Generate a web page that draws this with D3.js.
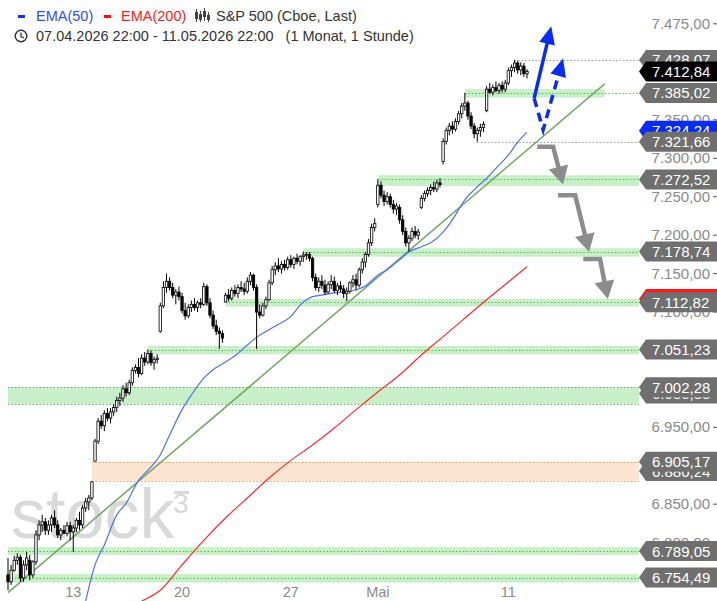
<!DOCTYPE html>
<html>
<head>
<meta charset="utf-8">
<script src="https://cdn.jsdelivr.net/npm/d3@7"></script>
<style>
  body { margin: 0; background: #fff; }
  svg { display: block; font-family: "Liberation Sans", Arial, sans-serif; }
</style>
</head>
<body>
<svg id="chart" width="717" height="601"></svg>
<script>
// hourly candles, 7 per trading day, 08.04. - 11.05.2026  [open, high, low, close]
var candles = [
  [6758,6780,6738,6749],[6749,6771,6745,6764],[6764,6783,6762,6777],[6777,6786,6771,6781],[6781,6784,6749,6754],[6754,6777,6749,6771],[6771,6788,6764,6780],
  [6777,6784,6751,6758],[6758,6777,6754,6775],[6775,6816,6771,6810],[6810,6829,6803,6823],[6823,6836,6814,6827],[6827,6832,6810,6816],[6816,6829,6810,6823],
  [6823,6836,6814,6832],[6832,6842,6819,6823],[6823,6829,6806,6810],[6810,6819,6803,6816],[6816,6823,6812,6812],[6812,6827,6808,6822],[6822,6827,6803,6814],
  [6814,6823,6788,6819],[6819,6832,6814,6829],[6829,6840,6816,6823],[6823,6849,6819,6845],[6845,6858,6840,6853],[6853,6862,6842,6858],[6858,6880.24,6855,6879],
  [6906,6935,6905.17,6932],[6932,6962,6928,6958],[6958,6966,6948,6952],[6952,6972,6945,6968],[6968,6975,6958,6962],[6962,6975,6955,6970],[6970,6980,6965,6976],
  [6976,6990,6970,6985],[6985,6995,6978,6988],[6988,7005,6983,7000],[7000,7008,6990,6995],[6995,7012,6992,7008],[7008,7028,7004,7024],[7024,7032,7020,7028],
  [7028,7040,7015,7020],[7020,7045,7018,7040],[7040,7048,7030,7035],[7035,7051.23,7032,7046],[7046,7050,7030,7034],[7034,7042,7025,7038],[7038,7045,7033,7040],
  [7075,7112,7073,7108],[7108,7140,7105,7132],[7132,7150,7125,7140],[7140,7145,7128,7132],[7132,7138,7118,7122],[7122,7130,7110,7126],[7126,7133,7115,7120],
  [7120,7125,7098,7102],[7102,7112,7090,7095],[7095,7110,7092,7106],[7106,7115,7100,7110],[7110,7118,7102,7106],[7106,7115,7100,7112],[7112,7118,7105,7110],
  [7110,7138,7108,7133],[7133,7136,7108,7112],[7112,7118,7092,7096],[7096,7102,7078,7082],[7082,7090,7070,7075],[7075,7080,7052,7072],[7072,7076,7060,7066],
  [7113,7125,7112.82,7122],[7122,7130,7114,7118],[7118,7132,7115,7128],[7128,7135,7120,7124],[7124,7136,7118,7132],[7132,7140,7126,7130],[7130,7138,7122,7127],
  [7127,7145,7124,7140],[7140,7152,7135,7148],[7148,7150,7128,7132],[7132,7136,7052,7100],[7100,7110,7092,7096],[7096,7112,7094,7108],[7108,7120,7104,7116],
  [7116,7142,7114,7138],[7138,7160,7135,7155],[7155,7165,7148,7160],[7160,7170,7152,7156],[7156,7166,7150,7162],[7162,7168,7154,7158],[7158,7172,7155,7168],
  [7168,7174,7158,7162],[7162,7172,7156,7170],[7170,7176,7162,7166],[7166,7174,7160,7172],[7172,7178.74,7165,7174],[7174,7178,7168,7175],[7175,7178,7166,7170],
  [7170,7172,7140,7145],[7145,7150,7128,7132],[7132,7145,7126,7140],[7140,7148,7130,7135],[7135,7142,7122,7126],[7126,7140,7124,7136],[7136,7148,7130,7140],
  [7140,7146,7125,7128],[7128,7138,7122,7134],[7134,7140,7126,7130],[7130,7135,7118,7124],[7124,7132,7114,7127],[7127,7140,7124,7138],[7138,7148,7132,7142],
  [7142,7150,7128,7135],[7135,7158,7132,7155],[7155,7170,7150,7165],[7165,7178,7158,7175],[7175,7195,7172,7190],[7190,7215,7186,7210],[7210,7222,7205,7215],
  [7240,7272.52,7236,7265],[7265,7270,7248,7252],[7252,7258,7238,7244],[7244,7256,7240,7250],[7250,7254,7236,7240],[7240,7246,7228,7234],[7234,7242,7226,7238],
  [7236,7240,7215,7220],[7220,7226,7200,7205],[7205,7210,7185,7190],[7190,7200,7178.74,7196],[7196,7210,7192,7205],[7205,7212,7196,7200],[7200,7208,7194,7204],
  [7236,7252,7234,7248],[7248,7258,7244,7254],[7254,7262,7250,7258],[7258,7266,7252,7262],[7262,7270,7256,7260],[7260,7272,7256,7268],[7268,7274,7262,7266],
  [7296,7326,7292,7322],[7322,7340,7318,7336],[7336,7346,7330,7342],[7342,7348,7332,7338],[7338,7352,7335,7348],[7348,7362,7344,7358],[7358,7372,7352,7368],
  [7368,7385.02,7362,7372],[7372,7375,7350,7355],[7355,7360,7338,7342],[7342,7346,7326,7332],[7332,7340,7321.66,7336],[7336,7345,7328,7340],[7340,7348,7334,7344],
  [7362,7394,7360,7390],[7390,7398,7384,7386],[7386,7396,7382,7392],[7392,7400,7386,7388],[7388,7398,7384,7395],[7395,7400,7385.5,7390],[7390,7402,7386,7398],
  [7398,7418,7395,7414],[7414,7422,7406,7418],[7418,7428.07,7412,7424],[7424,7427,7410,7415],[7415,7425,7408,7420],[7420,7424,7406,7410],[7410,7416,7404,7412.84]
];

// moving averages, [candle index, value]
var ema50 = [[25,6724],[28,6771],[31,6797],[35,6836],[38,6851],[42,6881],[45,6894],[49,6914],[52,6940],[56,6973],[59,6992],
  [63,7014],[66,7025],[70,7035],[73,7043],[77,7057],[80,7067],[84,7077],[87,7084],[91,7094],[94,7109],[98,7120],[101,7122],
  [105,7125],[108,7126],[112,7129],[115,7134],[119,7148],[122,7155],[126,7168],[129,7178],[133,7185],[136,7190],[140,7204],
  [143,7220],[147,7246],[150,7259],[154,7274],[157,7287],[161,7304],[164,7321],[167,7334]];
var ema200 = [[43,6724],[49,6738],[56,6771],[63,6803],[70,6832],[77,6858],[84,6884],[91,6907],[98,6927],[105,6949],
  [112,6973],[119,6996],[126,7018],[133,7044],[140,7068],[147,7092],[154,7116],[161,7139],[167,7159]];

// trend line anchors [index, value]
var trendLine = [[0, 6735], [192, 7397]];

// support / resistance zones
var zones = [
  {hi: 7390, lo: 7379, lines: [7385.02], from: 147, to: 192, kind: "level"},
  {hi: 7278, lo: 7264, lines: [7272.52], from: 119, kind: "level"},
  {hi: 7183, lo: 7172, lines: [7178.74], from: 95, kind: "level"},
  {hi: 7117, lo: 7107, lines: [7112.82], from: 70, kind: "level"},
  {hi: 7056, lo: 7045, lines: [7051.23], from: 45, kind: "level"},
  {hi: 7002.28, lo: 6980.33, lines: [7002.28, 6980.33], from: 0, kind: "level"},
  {hi: 6905.17, lo: 6880.24, lines: [6905.17, 6880.24], from: 27, kind: "gap"},
  {hi: 6794, lo: 6784, lines: [6789.05], from: 0, kind: "level"},
  {hi: 6759, lo: 6748, lines: [6754.49], from: 0, kind: "level"}
];
var plainLevels = [{v: 7428.07, from: 163}, {v: 7321.66, from: 151}];

var yTicks = [7475, 7350, 7300, 7250, 7200, 7150, 7100, 7050, 7000, 6950, 6900, 6850, 6800];
var xTickIdx = [21, 56, 91, 119, 161];
var xTickText = ["13", "20", "27", "Mai", "11"];

// price tags on the right axis: text value, position value (tags are pushed together), kind
var tags = [
  {v: 7428.07, at: 7428.07, kind: "gray"},
  {v: 7412.84, at: 7412.84, kind: "last"},
  {v: 7385.02, at: 7385.02, kind: "gray"},
  {v: 7324.24, at: 7336, kind: "ema50"},
  {v: 7321.66, at: 7321.66, kind: "gray"},
  {v: 7272.52, at: 7272.52, kind: "gray"},
  {v: 7178.74, at: 7178.74, kind: "gray"},
  {v: 7120.10, at: 7117, kind: "ema200"},
  {v: 7112.82, at: 7112.82, kind: "gray"},
  {v: 7051.23, at: 7051.23, kind: "gray"},
  {v: 6980.33, at: 6994, kind: "gray"},
  {v: 7002.28, at: 7002.28, kind: "gray"},
  {v: 6880.24, at: 6893, kind: "gray"},
  {v: 6905.17, at: 6905.17, kind: "gray"},
  {v: 6789.05, at: 6789.05, kind: "gray"},
  {v: 6754.49, at: 6754.49, kind: "gray"}
];

// scenario arrows, [index, value]
var bullSolid = [[169.3, 7378], [174.8, 7472]];
var bullDashed = [[169.3, 7378], [172.2, 7337], [178.6, 7430]];
var bearSteps = [
  [[170.3, 7315], [175.4, 7315], [178.6, 7266]],
  [[177.0, 7252], [182.5, 7252], [187.0, 7178]],
  [[185.1, 7169], [190.5, 7169], [193.0, 7117]]
];

var svg = d3.select("#chart");
var W = 717, H = 601, axisX = 639;

var x = d3.scaleLinear().domain([0, 167]).range([8, 527]);
var y = d3.scaleLinear().domain([6724, 7506]).range([H, 0]);

var de = d3.formatLocale({decimal: ",", thousands: ".", grouping: [3], currency: ["", ""]});
var fmt = de.format(",.2f");

var colors = {level: "#c9efc9", levelLine: "#5cb85c", gap: "#fde4d0", gapLine: "#e0a070",
  blue: "#4f6ff0", red: "#ff2a2a", arrowBlue: "#0a2cf0", arrowGray: "#8c8c8c"};

// watermark
svg.append("text").attr("x", 11).attr("y", 538)
  .attr("fill", "#d9d9d9").style("font-size", "70px").text("stock");
svg.append("text").attr("x", 173).attr("y", 513)
  .attr("fill", "#d9d9d9").style("font-size", "28px").text("3");
svg.append("rect").attr("x", 174).attr("y", 491).attr("width", 15).attr("height", 3).attr("fill", "#d9d9d9");

// zones
var zg = svg.append("g");
zones.forEach(function(z) {
  var x0 = x(z.from), x1 = z.to != null ? x(z.to) : axisX;
  zg.append("rect").attr("x", x0).attr("width", x1 - x0)
    .attr("y", y(z.hi)).attr("height", y(z.lo) - y(z.hi))
    .attr("fill", z.kind == "gap" ? colors.gap : colors.level);
  z.lines.forEach(function(v) {
    zg.append("line").attr("x1", x0).attr("x2", axisX)
      .attr("y1", Math.round(y(v)) + 0.5).attr("y2", Math.round(y(v)) + 0.5)
      .attr("stroke", z.kind == "gap" ? colors.gapLine : colors.levelLine)
      .attr("stroke-dasharray", "1.5,2");
  });
});
plainLevels.forEach(function(l) {
  zg.append("line").attr("x1", x(l.from)).attr("x2", axisX)
    .attr("y1", Math.round(y(l.v)) + 0.5).attr("y2", Math.round(y(l.v)) + 0.5)
    .attr("stroke", "#999").attr("stroke-dasharray", "1.5,2");
});

// trend line
svg.append("line")
  .attr("x1", x(trendLine[0][0])).attr("y1", y(trendLine[0][1]))
  .attr("x2", x(trendLine[1][0])).attr("y2", y(trendLine[1][1]))
  .attr("stroke", "#7aa86a").attr("stroke-width", 1.6);

// moving averages
var line = d3.line().x(function(d) { return x(d[0]); }).y(function(d) { return y(d[1]); }).curve(d3.curveMonotoneX);
svg.append("path").datum(ema200).attr("d", line).attr("fill", "none").attr("stroke", colors.red).attr("stroke-width", 1.2);
svg.append("path").datum(ema50).attr("d", line).attr("fill", "none").attr("stroke", colors.blue).attr("stroke-width", 1.2);

// candles
var cg = svg.append("g");
cg.selectAll("line").data(candles).enter().append("line")
  .attr("x1", function(d, i) { return x(i); }).attr("x2", function(d, i) { return x(i); })
  .attr("y1", function(d) { return y(d[1]); }).attr("y2", function(d) { return y(d[2]); })
  .attr("stroke", "#000").attr("stroke-width", 1);
cg.selectAll("rect").data(candles).enter().append("rect")
  .attr("x", function(d, i) { return x(i) - 1.2; }).attr("width", 2.4)
  .attr("y", function(d) { return y(Math.max(d[0], d[3])); })
  .attr("height", function(d) { return Math.max(0.8, Math.abs(y(d[0]) - y(d[3]))); })
  .attr("fill", function(d) { return d[3] >= d[0] ? "#fff" : "#000"; })
  .attr("stroke", "#000").attr("stroke-width", 0.8);

// arrows
function arrow(pts, color, width, dash, head) {
  var p = pts.map(function(d) { return [x(d[0]), y(d[1])]; });
  var a = p[p.length - 2], b = p[p.length - 1];
  var dx = b[0] - a[0], dy = b[1] - a[1], len = Math.sqrt(dx * dx + dy * dy);
  var ux = dx / len, uy = dy / len;
  var base = [b[0] - ux * head[0], b[1] - uy * head[0]];
  var shaft = p.slice(0, -1).concat([[base[0] + ux * 2, base[1] + uy * 2]]);
  svg.append("path").attr("d", d3.line()(shaft)).attr("fill", "none")
    .attr("stroke", color).attr("stroke-width", width)
    .attr("stroke-dasharray", dash || null).attr("stroke-linejoin", "miter");
  svg.append("path")
    .attr("d", d3.line()([b, [base[0] - uy * head[1], base[1] + ux * head[1]], [base[0] + uy * head[1], base[1] - ux * head[1]]]) + "Z")
    .attr("fill", color);
}
arrow(bullSolid, colors.arrowBlue, 3.5, null, [18, 8]);
arrow(bullDashed, colors.arrowBlue, 3.5, "9,6", [18, 8]);
bearSteps.forEach(function(s) { arrow(s, colors.arrowGray, 4.5, null, [18, 10]); });

// right axis ticks
var ag = svg.append("g");
yTicks.forEach(function(v) {
  ag.append("text").attr("x", 710).attr("y", y(v) + 5).attr("text-anchor", "end")
    .attr("fill", "#8a8a8a").style("font-size", "15px").text(fmt(v));
  ag.append("line").attr("x1", 713).attr("x2", 717).attr("y1", y(v)).attr("y2", y(v)).attr("stroke", "#555");
});

// price tags
var tagFill = {gray: "#6f6f6f", last: "#000", ema50: "#0a2cf0", ema200: "#ff1a1a"};
tags.forEach(function(t) {
  var cy = y(t.at), h = 10;
  var g = ag.append("g");
  g.append("path")
    .attr("d", d3.line()([[axisX, cy], [axisX + 7, cy - h], [W, cy - h], [W, cy + h], [axisX + 7, cy + h]]) + "Z")
    .attr("fill", tagFill[t.kind]);
  g.append("text").attr("x", 652).attr("y", cy + 5.5).attr("fill", "#fff")
    .style("font-size", "15px").text(fmt(t.v));
});

// x axis labels
xTickIdx.forEach(function(d, i) {
  svg.append("text").attr("x", x(d)).attr("y", 597).attr("text-anchor", "middle")
    .attr("fill", "#8a8a8a").style("font-size", "14.5px").text(xTickText[i]);
});

// legend
var lg = svg.append("g").style("font-size", "14.5px");
lg.append("rect").attr("x", 18).attr("y", 15).attr("width", 7).attr("height", 3).attr("fill", "#1030ff");
lg.append("text").attr("x", 36).attr("y", 21).attr("fill", "#2e4cff").text("EMA(50)");
lg.append("rect").attr("x", 104).attr("y", 15).attr("width", 7).attr("height", 3).attr("fill", "#ff1010");
lg.append("text").attr("x", 121).attr("y", 21).attr("fill", "#ff2020").text("EMA(200)");
// small candle icon
[[196, 9, 22, 12, 19], [200, 11, 22, 14, 20], [204, 8, 21, 11, 17], [208, 12, 22, 15, 20]].forEach(function(c) {
  lg.append("line").attr("x1", c[0] + 0.5).attr("x2", c[0] + 0.5).attr("y1", c[1]).attr("y2", c[2]).attr("stroke", "#444");
  lg.append("rect").attr("x", c[0] - 1).attr("y", c[3]).attr("width", 3).attr("height", c[4] - c[3]).attr("fill", "#444");
});
lg.append("text").attr("x", 216).attr("y", 21).attr("fill", "#333").text("S&P 500 (Cboe, Last)");
lg.append("circle").attr("cx", 21).attr("cy", 36).attr("r", 5.8).attr("fill", "none").attr("stroke", "#333").attr("stroke-width", 1.4);
lg.append("path").attr("d", "M21,32.5V36.5L24,38").attr("fill", "none").attr("stroke", "#333").attr("stroke-width", 1.3);
lg.append("text").attr("x", 36).attr("y", 41).attr("fill", "#333")
  .text("07.04.2026 22:00 - 11.05.2026 22:00").append("tspan").attr("dx", 12).text("(1 Monat, 1 Stunde)");
</script>
</body>
</html>
